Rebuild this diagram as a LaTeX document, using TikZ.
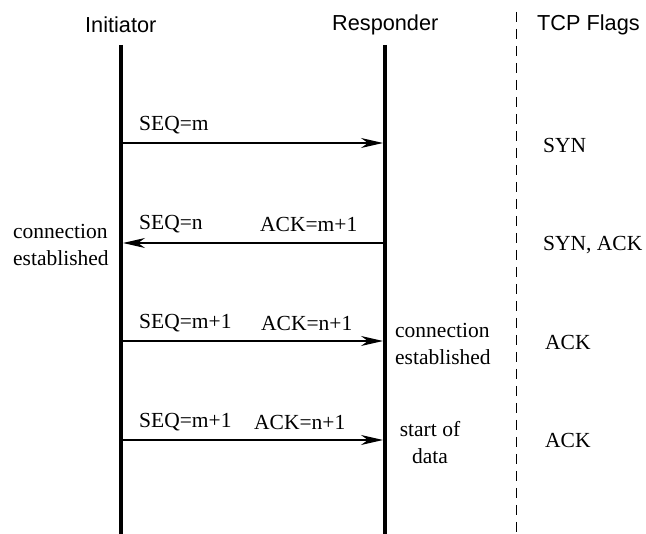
\documentclass[tikz,border=0pt]{standalone}
\usepackage{fontspec}
\setmainfont{Liberation Serif}
\newfontfamily\headfont{Liberation Sans}
\usetikzlibrary{arrows.meta}

\begin{document}
\begin{tikzpicture}[x=1pt, y=-1pt,
    lifeline/.style={line width=4.5pt},
    msg/.style={line width=1.2pt, shorten >=2pt, shorten <=2pt, -{Stealth[length=22pt, width=10pt, inset=7pt]}},
    head/.style={font=\headfont\fontsize{21.7}{26}\selectfont, anchor=west, inner sep=0pt},
    lbl/.style={font=\fontsize{21.5}{27}\selectfont, anchor=west, inner sep=0pt, align=left}]
  \useasboundingbox (0,0) rectangle (646,534);

  % column headings
  \node[head] (init) at (85,25) {Initiator};
  \node[head] (resp) at (332,25) {Responder};
  \node[head] (flags) at (537,25) {TCP Flags};

  % lifelines and the flags separator
  \coordinate (itop) at (121,45);  \coordinate (ibot) at (121,534);
  \coordinate (rtop) at (385,45);  \coordinate (rbot) at (385,534);
  \coordinate (stop) at (516,12);  \coordinate (sbot) at (516,534);
  \draw[lifeline] (itop) -- (ibot);
  \draw[lifeline] (rtop) -- (rbot);
  \draw[line width=1pt, dash pattern=on 10pt off 7pt] (stop) -- (sbot);

  % message rows
  \foreach \y/\n in {143/1, 243/2, 341/3, 440/4} {
    \coordinate (i\n) at (121,\y);
    \coordinate (r\n) at (385,\y);
  }
  \draw[msg] (i1) -- (r1);
  \draw[msg] (r2) -- (i2);
  \draw[msg] (i3) -- (r3);
  \draw[msg] (i4) -- (r4);

  % segment fields
  \node[lbl] (seq1) at (139,125) {SEQ=m};
  \node[lbl] (seq2) at (139,224) {SEQ=n};
  \node[lbl] (ack2) at (260,224) {ACK=m+1};
  \node[lbl] (seq3) at (139,323) {SEQ=m+1};
  \node[lbl] (ack3) at (261,323) {ACK=n+1};
  \node[lbl] (seq4) at (139,422) {SEQ=m+1};
  \node[lbl] (ack4) at (254,422) {ACK=n+1};

  % state notes
  \node[lbl] (iest) at (13,245) {connection\\established};
  \node[lbl] (rest) at (395,344) {connection\\established};
  \node[lbl, anchor=center, align=center] (data) at (430,443) {start of\\data};

  % flags per segment
  \node[lbl] (f1) at (543,145) {SYN};
  \node[lbl] (f2) at (543,245) {SYN, ACK};
  \node[lbl] (f3) at (545,342) {ACK};
  \node[lbl] (f4) at (545,440) {ACK};
\end{tikzpicture}
\end{document}
